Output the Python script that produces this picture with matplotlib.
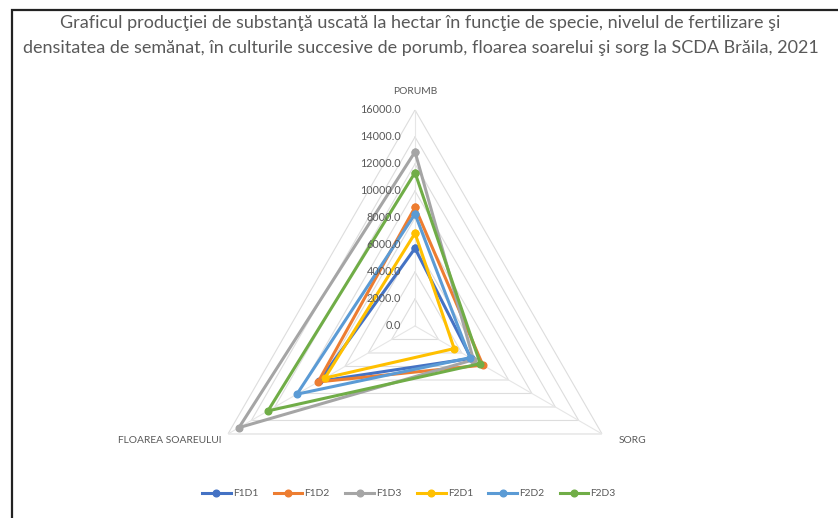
import numpy as np
import matplotlib.pyplot as plt
from matplotlib.patches import Rectangle

plt.rcParams['font.family'] = ['Lato', 'DejaVu Sans']

# Dry matter yield (kg/ha) per crop and treatment
crops = ['PORUMB', 'SORG', 'FLOAREA SOAREULUI']
series = ['F1D1', 'F1D2', 'F1D3', 'F2D1', 'F2D2', 'F2D3']
f1d1 = [5750, 4800, 8200]
f1d2 = [8790, 5800, 8290]
f1d3 = [12900, 5000, 15060]
f2d1 = [6870, 3350, 7710]
f2d2 = [8300, 4700, 10100]
f2d3 = [11360, 5580, 12580]
levels = [0, 2000, 4000, 6000, 8000, 10000, 12000, 14000, 16000]

colors = ['#4472C4', '#ED7D31', '#A5A5A5', '#FFC000', '#5B9BD5', '#70AD47']
values = [f1d1, f1d2, f1d3, f2d1, f2d2, f2d3]

fig = plt.figure(figsize=(8.38, 5.18), dpi=100)
fig.patches.append(Rectangle((0.014, -0.05), 1.05, 1.03, transform=fig.transFigure,
                             fill=False, edgecolor='#222222', linewidth=1.6))

fig.text(0.502, 0.956, 'Graficul producţiei de substanţă uscată la hectar în funcţie de specie, nivelul de fertilizare şi',
         ha='center', va='center', fontsize=13, color='#595959')
fig.text(0.502, 0.908, 'densitatea de semănat, în culturile succesive de porumb, floarea soarelui şi sorg la SCDA Brăila, 2021',
         ha='center', va='center', fontsize=13, color='#595959')

ax = fig.add_axes([0.2375, -0.0463, 0.5155, 0.834], projection='polar')
ax.set_theta_zero_location('N')
ax.set_theta_direction(-1)
ax.set_ylim(0, 16000)
ax.grid(False)
ax.spines['polar'].set_visible(False)
ax.set_xticks([])
ax.set_yticks([])
ax.patch.set_alpha(0)

angles = np.linspace(0, 2 * np.pi, len(crops), endpoint=False)
closed = np.append(angles, angles[0])

# triangular grid and spokes
for lv in levels[1:]:
    ax.plot(closed, [lv] * len(closed), color='#DDDDDD', lw=0.8, zorder=1)
for a in angles:
    ax.plot([a, a], [0, 16000], color='#E6E6E6', lw=0.8, zorder=1)

for name, vals, c in zip(series, values, colors):
    ax.plot(closed, vals + vals[:1], color=c, lw=2.2, marker='o', ms=4.8,
            label=name, zorder=3)

for lv in levels:
    ax.annotate(f'{lv:.1f}', xy=(0, lv), xytext=(-10, 0), textcoords='offset points',
                ha='right', va='center', fontsize=7.8, color='#595959', zorder=4)

ax.annotate(crops[0], xy=(angles[0], 16000), xytext=(0, 10), textcoords='offset points',
            ha='center', va='bottom', fontsize=7.4, color='#595959')
ax.annotate(crops[1], xy=(angles[1], 16000), xytext=(12, -5), textcoords='offset points',
            ha='left', va='center', fontsize=7.4, color='#595959')
ax.annotate(crops[2], xy=(angles[2], 16000), xytext=(-5, -5), textcoords='offset points',
            ha='right', va='center', fontsize=7.4, color='#595959')

fig.legend(loc='center', bbox_to_anchor=(0.488, 0.047), ncol=6, frameon=False,
           fontsize=7.4, handlelength=2.8, columnspacing=1.5, handletextpad=0.2,
           labelcolor='#595959')

fig.savefig('out.png', dpi=100)
